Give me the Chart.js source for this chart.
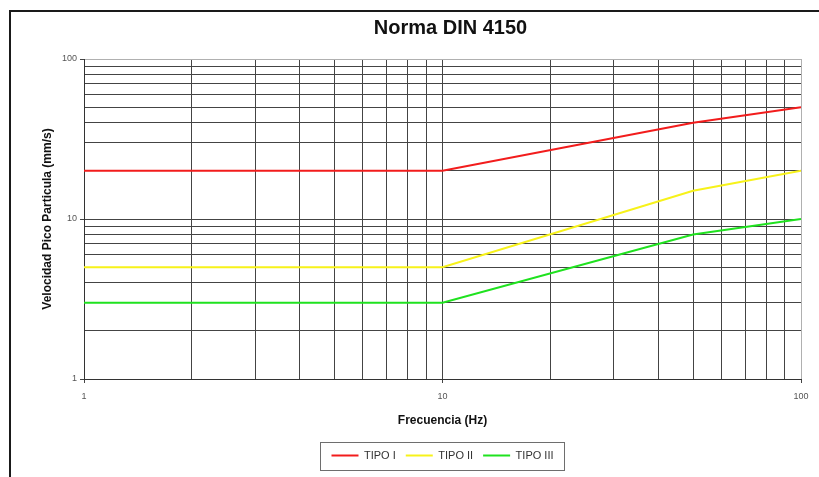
<!DOCTYPE html>
<html>
<head>
<meta charset="utf-8">
<script src="https://cdn.jsdelivr.net/npm/chart.js@4.4.1/dist/chart.umd.min.js"></script>
<style>
  html, body { margin: 0; padding: 0; background: #fff; }
  #wrap { width: 819px; height: 477px; }
</style>
</head>
<body>
<div id="wrap"><canvas id="chart" width="819" height="477"></canvas></div>
<script>
// Frequency breakpoints (Hz) and peak particle velocity limits (mm/s)
const frequencies = [1, 10, 50, 100];
const tipoI = [20, 20, 40, 50];
const tipoII = [5, 5, 15, 20];
const tipoIII = [3, 3, 8, 10];
const seriesNames = ['TIPO I', 'TIPO II', 'TIPO III'];
const seriesColors = ['#f21c1c', '#f7f21a', '#1fe21f'];
const majorTicks = [1, 10, 100];

// Log grid: every integer multiple inside each decade
function logGridValues(lo, hi) {
  const vals = [];
  for (let d = lo; d < hi; d *= 10) {
    for (let m = 1; m < 10; m++) vals.push(d * m);
  }
  vals.push(hi);
  return vals;
}
const gridValues = logGridValues(1, 100);

const toPoints = ys => frequencies.map((f, i) => ({ x: f, y: ys[i] }));
const seriesValues = [tipoI, tipoII, tipoIII];

const datasets = seriesNames.map((name, i) => ({
  label: name,
  data: toPoints(seriesValues[i]),
  borderColor: seriesColors[i],
  backgroundColor: seriesColors[i],
  borderWidth: 2,
  pointRadius: 0,
  tension: 0,
  fill: false
}));

const gridColor = ctx => (ctx.tick && ctx.tick.value === 100) ? '#b0b0b0' : '#444444';
const tickMarkColor = ctx => (ctx.tick && majorTicks.includes(ctx.tick.value)) ? '#444444' : 'rgba(0,0,0,0)';

function logAxis(titleText, isX) {
  return {
    type: 'logarithmic',
    min: 1,
    max: 100,
    afterBuildTicks: s => { s.ticks = gridValues.map(v => ({ value: v, major: majorTicks.includes(v) })); },
    afterFit: s => { if (isX) { s.height = 61; } else { s.width = 48; } },
    ticks: {
      autoSkip: false,
      maxRotation: 0,
      padding: isX ? 8 : 3,
      color: '#555',
      font: { family: 'Liberation Sans, Arial, sans-serif', size: 9 },
      callback: v => majorTicks.includes(v) ? String(v) : ''
    },
    grid: { color: gridColor, lineWidth: 1, tickLength: 4, tickColor: tickMarkColor },
    border: { color: '#333', width: 1 },
    title: {
      display: true,
      text: titleText,
      color: '#111',
      font: { family: 'Liberation Sans, Arial, sans-serif', size: 12, weight: 'bold' },
      padding: isX ? { top: 4, bottom: 12 } : { top: 4, bottom: 0 }
    }
  };
}

// Outer frame lines and the box around the legend
const framePlugin = {
  id: 'frame',
  beforeDraw(chart) {
    const ctx = chart.ctx;
    ctx.save();
    ctx.fillStyle = '#fff';
    ctx.fillRect(0, 0, chart.width, chart.height);
    ctx.fillStyle = '#1a1a1a';
    ctx.fillRect(9, 10, chart.width - 9, 2);
    ctx.fillRect(9, 10, 2, chart.height - 10);
    ctx.restore();
  },
  afterLayout(chart) {
    const t = chart.titleBlock;
    if (t) { t.left += 8; t.right += 8; }
  },
  afterDraw(chart) {
    const lg = chart.legend;
    if (!lg || !lg.legendHitBoxes || !lg.legendHitBoxes.length) return;
    const hb = lg.legendHitBoxes;
    const left = Math.min(...hb.map(b => b.left));
    const right = Math.max(...hb.map(b => b.left + b.width));
    const cy = hb[0].top + hb[0].height / 2;
    const ctx = chart.ctx;
    ctx.save();
    ctx.strokeStyle = '#6e6e6e';
    ctx.lineWidth = 1;
    ctx.strokeRect(Math.round(left) - 10.5, Math.round(cy) - 13.5, Math.round(right - left) + 22, 28);
    ctx.restore();
  }
};

new Chart(document.getElementById('chart'), {
  type: 'line',
  data: { datasets },
  plugins: [framePlugin],
  options: {
    responsive: false,
    animation: false,
    layout: { padding: { left: 36, right: 18, top: 16, bottom: 6 } },
    plugins: {
      title: {
        display: true,
        fullSize: false,
        text: 'Norma DIN 4150',
        color: '#111',
        font: { family: 'Liberation Sans, Arial, sans-serif', size: 20, weight: 'bold' },
        padding: { top: 0, bottom: 19 }
      },
      legend: {
        display: true,
        position: 'bottom',
        fullSize: false,
        labels: {
          usePointStyle: true,
          pointStyle: 'line',
          pointStyleWidth: 27,
          color: '#333',
          padding: 10,
          font: { family: 'Liberation Sans, Arial, sans-serif', size: 11 }
        }
      },
      tooltip: { enabled: false }
    },
    scales: {
      x: logAxis('Frecuencia (Hz)', true),
      y: logAxis('Velocidad Pico Particula (mm/s)', false)
    }
  }
});
</script>
</body>
</html>
